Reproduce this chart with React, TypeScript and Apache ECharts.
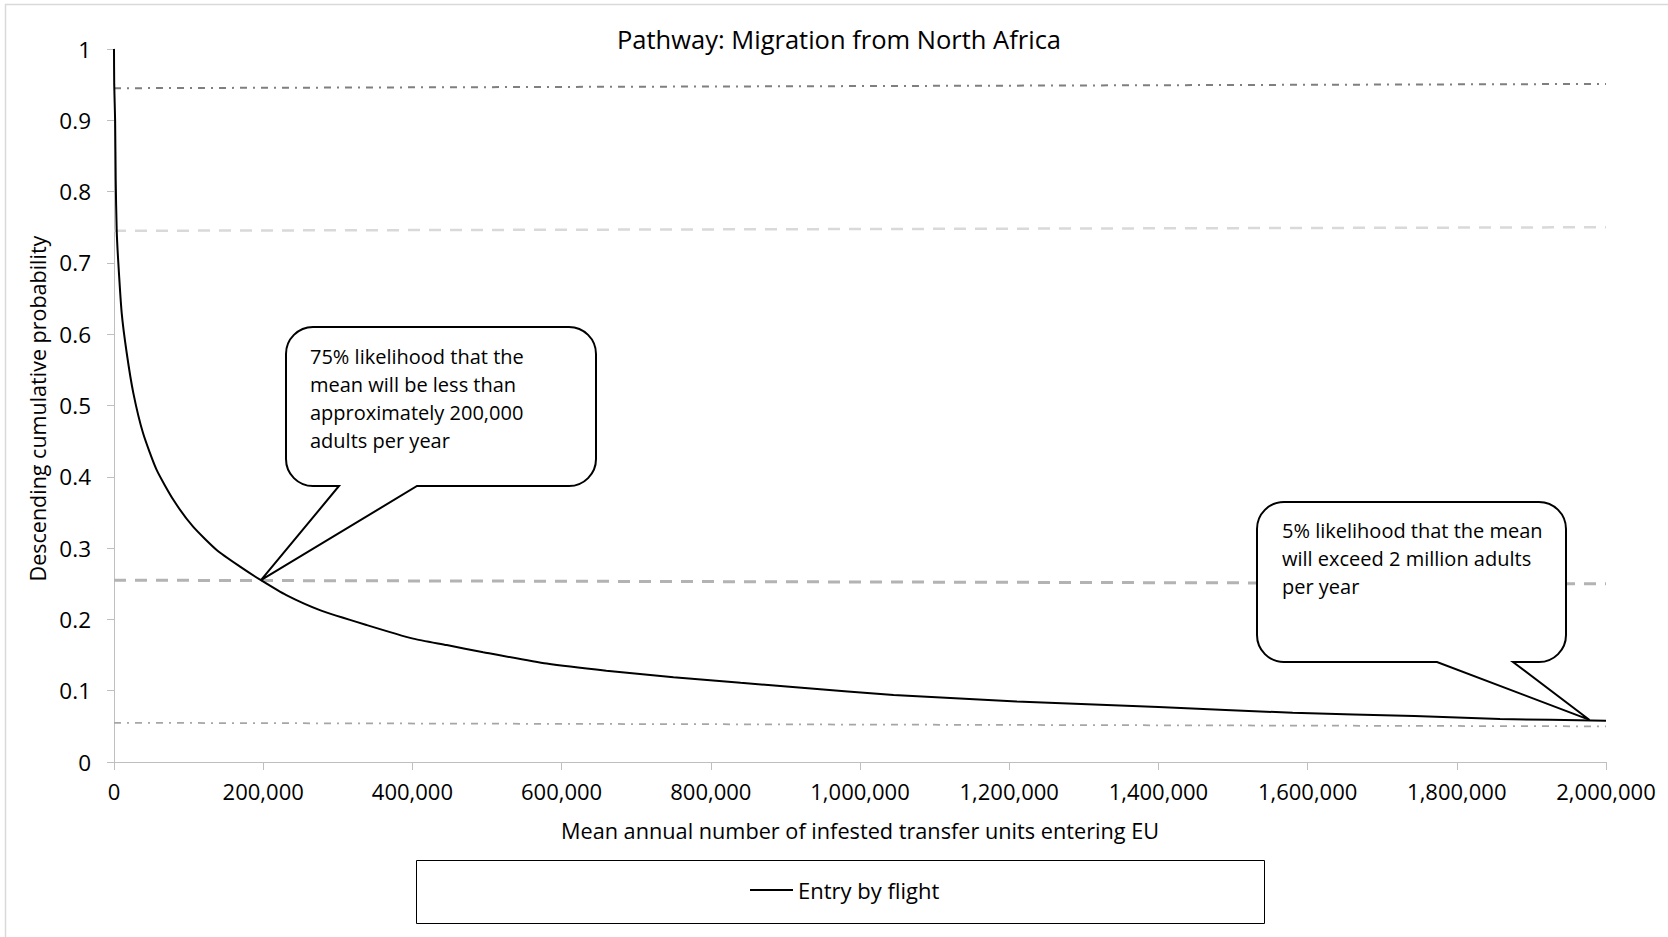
import React, { useEffect, useRef } from "react";
import * as echarts from "echarts";

const FONT = '"Open Sans", "Noto Sans", sans-serif';

const TITLE = "Pathway: Migration from North Africa";
const X_NAME = "Mean annual number of infested transfer units entering EU";
const Y_NAME = "Descending cumulative probability";
const SERIES_NAME = "Entry by flight";

// Axis ranges / ticks
const X_MIN = 0;
const X_MAX = 2000000;
const X_INTERVAL = 200000;
const Y_MIN = 0;
const Y_MAX = 1;
const Y_INTERVAL = 0.1;

// Descending cumulative probability curve
const curveX = [
  0, 300, 1500, 2300, 3600, 5800, 10300, 17000, 26000, 39000, 57000, 80000,
  106000, 138000, 169000, 197000, 231000, 276000, 339000, 401000, 446000,
  495000, 580000, 660000, 750000, 840000, 922000, 1045000, 1210000, 1400000,
  1580000, 1743000, 1858000, 2000000,
];
const curveY = [
  1.0, 0.95, 0.9, 0.816, 0.746, 0.7, 0.63, 0.574, 0.517, 0.461, 0.41, 0.367,
  0.33, 0.297, 0.274, 0.255, 0.234, 0.213, 0.192, 0.173, 0.164, 0.154, 0.138,
  0.128, 0.119, 0.111, 0.104, 0.094, 0.085, 0.077, 0.069, 0.0645, 0.0603,
  0.058,
];

// Reference lines (start / end values)
const refX = [0, 2000000];
const ref95 = [0.945, 0.951];
const ref75 = [0.745, 0.75];
const ref25 = [0.255, 0.25];
const ref05 = [0.055, 0.05];

// Callouts
const callout1Lines = [
  "75% likelihood that the",
  "mean will be less than",
  "approximately 200,000",
  "adults per year",
];
const callout1Anchor = [197000, 0.255];
const callout2Lines = [
  "5% likelihood that the mean",
  "will exceed 2 million adults",
  "per year",
];
const callout2Anchor = [1978000, 0.059];

function calloutPath(
  x0: number,
  y0: number,
  x1: number,
  y1: number,
  r: number,
  bL: number,
  bR: number,
  tx: number,
  ty: number
) {
  const k = 0.5523 * r;
  return [
    `M ${x0 + r} ${y0}`,
    `L ${x1 - r} ${y0}`,
    `C ${x1 - r + k} ${y0} ${x1} ${y0 + r - k} ${x1} ${y0 + r}`,
    `L ${x1} ${y1 - r}`,
    `C ${x1} ${y1 - r + k} ${x1 - r + k} ${y1} ${x1 - r} ${y1}`,
    `L ${bR} ${y1}`,
    `L ${tx} ${ty}`,
    `L ${bL} ${y1}`,
    `L ${x0 + r} ${y1}`,
    `C ${x0 + r - k} ${y1} ${x0} ${y1 - r + k} ${x0} ${y1 - r}`,
    `L ${x0} ${y0 + r}`,
    `C ${x0} ${y0 + r - k} ${x0 + r - k} ${y0} ${x0 + r} ${y0}`,
    "Z",
  ].join(" ");
}

function pairs(xs: number[], ys: number[]) {
  return xs.map((x, i) => [x, ys[i]]);
}

export default function App() {
  const ref = useRef<HTMLDivElement>(null);

  useEffect(() => {
    document.body.style.margin = "0";
    if (!ref.current) return;
    const chart = echarts.init(ref.current, null, { renderer: "svg" });

    const refSeries = (
      ys: number[],
      color: string,
      width: number,
      type: any
    ) => ({
      type: "line",
      data: pairs(refX, ys),
      showSymbol: false,
      symbol: "none",
      silent: true,
      lineStyle: { color, width, type },
      z: 1,
    });

    chart.setOption({
      animation: false,
      textStyle: { fontFamily: FONT },
      title: {
        text: TITLE,
        left: 617,
        top: 26,
        padding: 0,
        textStyle: {
          fontSize: 25.5,
          fontWeight: "normal",
          color: "#000",
          fontFamily: FONT,
        },
      },
      grid: { left: 114, right: 62, top: 49, bottom: 175 },
      legend: {
        data: [{ name: SERIES_NAME, icon: "rect" }],
        left: 745,
        top: 874,
        itemWidth: 43,
        itemHeight: 2,
        textStyle: { fontSize: 22, color: "#000", fontFamily: FONT },
      },
      xAxis: {
        type: "value",
        min: X_MIN,
        max: X_MAX,
        interval: X_INTERVAL,
        name: X_NAME,
        nameLocation: "middle",
        nameGap: 57,
        nameTextStyle: { fontSize: 21.7, color: "#000", fontFamily: FONT },
        axisLine: { show: true, lineStyle: { color: "#bfbfbf", width: 1 } },
        axisTick: { show: true, length: 8, lineStyle: { color: "#bfbfbf" } },
        splitLine: { show: false },
        axisLabel: {
          fontSize: 22,
          color: "#000",
          margin: 18,
          fontFamily: FONT,
          formatter: (v: number) => v.toLocaleString("en-US"),
        },
      },
      yAxis: {
        type: "value",
        min: Y_MIN,
        max: Y_MAX,
        interval: Y_INTERVAL,
        name: Y_NAME,
        nameLocation: "middle",
        nameRotate: 90,
        nameGap: 64,
        nameTextStyle: {
          fontSize: 21.5,
          color: "#000",
          fontFamily: FONT,
          padding: [0, 0, 0, -6],
        },
        axisLine: { show: true, lineStyle: { color: "#bfbfbf", width: 1 } },
        axisTick: { show: true, length: 7, lineStyle: { color: "#bfbfbf" } },
        splitLine: { show: false },
        axisLabel: {
          fontSize: 22.5,
          color: "#000",
          margin: 23,
          fontFamily: FONT,
          formatter: (v: number) => String(Math.round(v * 10) / 10),
        },
      },
      series: [
        refSeries(ref95, "#7f7f7f", 2, [7, 6, 2, 6]),
        refSeries(ref75, "#d9d9d9", 2.5, [12, 9]),
        refSeries(ref25, "#b3b3b3", 3, [12, 9]),
        refSeries(ref05, "#a6a6a6", 1.75, [7, 6, 2, 6]),
        {
          name: SERIES_NAME,
          type: "line",
          data: pairs(curveX, curveY),
          showSymbol: false,
          symbol: "none",
          smooth: 0.2,
          lineStyle: { color: "#000", width: 2 },
          itemStyle: { color: "#000" },
          z: 5,
        },
      ],
    });

    const t1 = chart.convertToPixel({ gridIndex: 0 }, callout1Anchor) as number[];
    const t2 = chart.convertToPixel({ gridIndex: 0 }, callout2Anchor) as number[];

    echarts.graphic.registerShape(
      "calloutA",
      echarts.graphic.extendPath(
        calloutPath(286, 327, 596, 486, 27, 339, 417, t1[0], t1[1]),
        {}
      ) as any
    );
    echarts.graphic.registerShape(
      "calloutB",
      echarts.graphic.extendPath(
        calloutPath(1257, 502, 1566, 662, 27, 1437, 1513, t2[0], t2[1]),
        {}
      ) as any
    );

    const calloutStyle = { fill: "#fff", stroke: "#000", lineWidth: 2 };

    chart.setOption({
      graphic: [
        {
          type: "rect",
          silent: true,
          z: 0,
          shape: { x: 5.5, y: 4.5, width: 1800, height: 1000 },
          style: { fill: "none", stroke: "#d9d9d9", lineWidth: 1.5 },
        },
        {
          type: "rect",
          silent: true,
          z: 0,
          shape: { x: 416.5, y: 860.5, width: 848, height: 63 },
          style: { fill: "none", stroke: "#000", lineWidth: 1 },
        },
        {
          type: "calloutA",
          x: 0,
          y: 0,
          z: 100,
          silent: true,
          style: calloutStyle,
        },
        {
          type: "text",
          z: 101,
          x: 310,
          y: 342,
          silent: true,
          style: {
            text: callout1Lines.join("\n"),
            fontSize: 20,
            fontFamily: FONT,
            lineHeight: 28,
            fill: "#000",
            align: "left",
            verticalAlign: "top",
          },
        },
        {
          type: "calloutB",
          x: 0,
          y: 0,
          z: 100,
          silent: true,
          style: calloutStyle,
        },
        {
          type: "text",
          z: 101,
          x: 1282,
          y: 516,
          silent: true,
          style: {
            text: callout2Lines.join("\n"),
            fontSize: 20,
            fontFamily: FONT,
            lineHeight: 28,
            fill: "#000",
            align: "left",
            verticalAlign: "top",
          },
        },
      ],
    });

    return () => {
      chart.dispose();
    };
  }, []);

  return <div ref={ref} style={{ width: 1668, height: 937 }} />;
}
